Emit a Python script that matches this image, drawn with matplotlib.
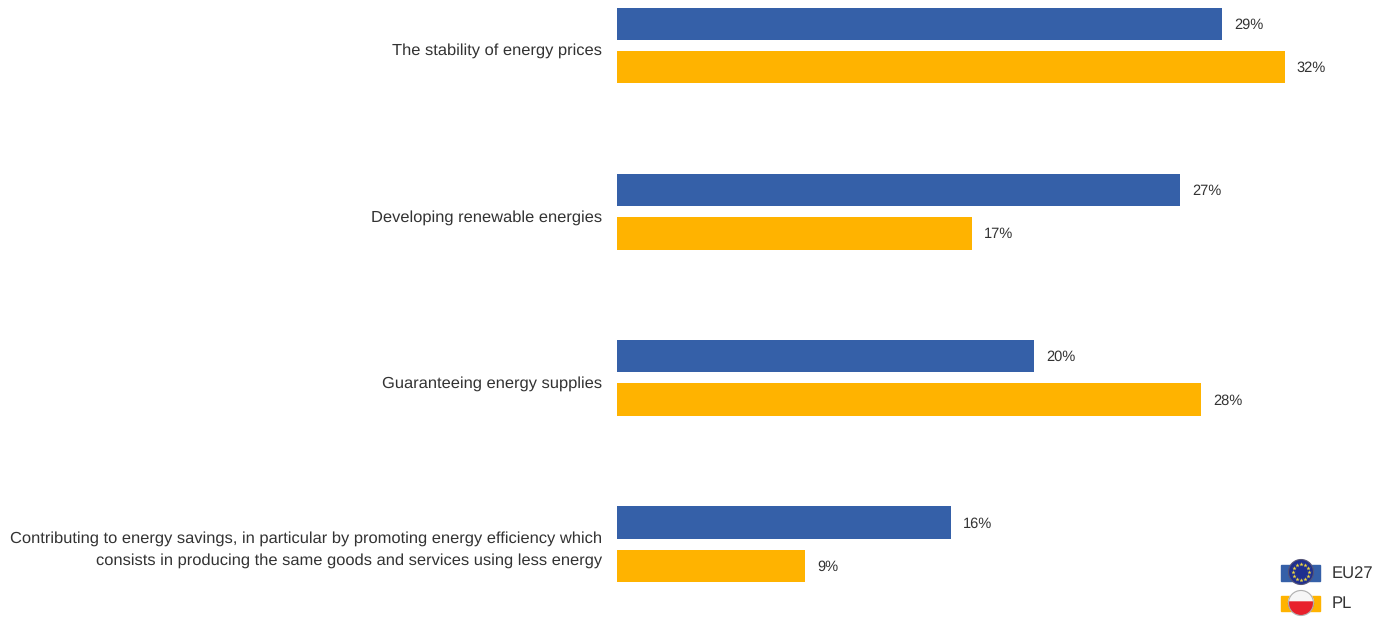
import numpy as np
import matplotlib
matplotlib.use("Agg")
import matplotlib.pyplot as plt
from matplotlib.patches import Circle, Rectangle, Wedge

categories = [
    "The stability of energy prices",
    "Developing renewable energies",
    "Guaranteeing energy supplies",
    "Contributing to energy savings, in particular by promoting energy efficiency which\nconsists in producing the same goods and services using less energy",
]
eu27 = [29, 27, 20, 16]
pl = [32, 17, 28, 9]
legend_names = ["EU27", "PL"]

W, H = 1387, 617
BLUE = "#3560A8"
ORANGE = "#FFB300"
TEXT = "#333333"
plt.rcParams["font.family"] = ["Liberation Sans", "DejaVu Sans"]
plt.rcParams["text.hinting"] = "none"

fig = plt.figure(figsize=(W / 100, H / 100), dpi=100)

# bars: axes starts at the zero line
ax = fig.add_axes([617 / W, 0, 1 - 617 / W, 1])
ax.set_xlim(0, (W - 617) / 20.87)
ax.set_ylim((H - 45.5) / 166.2, -45.5 / 166.2)
ax.axis("off")

y = np.arange(len(categories))
ax.barh(y - 0.13, eu27, height=0.195, color=BLUE)
ax.barh(y + 0.13, pl, height=0.195, color=ORANGE)

for i in range(len(categories)):
    ax.annotate(f"{eu27[i]}%", (eu27[i], y[i] - 0.13), xytext=(12, -1), textcoords="offset pixels",
                va="center", ha="left", fontsize=10.5, color=TEXT)
    ax.annotate(f"{pl[i]}%", (pl[i], y[i] + 0.13), xytext=(12, -1), textcoords="offset pixels",
                va="center", ha="left", fontsize=10.5, color=TEXT)
    ax.annotate(categories[i], (0, y[i]), xytext=(-15, -5.5), textcoords="offset pixels",
                va="center", ha="right", multialignment="right", fontsize=11.85,
                color=TEXT, linespacing=1.55, annotation_clip=False)

# legend with the round flags, in pixel coordinates
lg = fig.add_axes([0, 0, 1, 1], facecolor="none")
lg.set_xlim(0, W)
lg.set_ylim(H, 0)
lg.axis("off")

lg.add_patch(Rectangle((1281, 565), 39, 16, color=BLUE))
lg.add_patch(Circle((1301, 572), 12.5, fc="#1F2F8F", ec="#555577", lw=0.8))
for a in np.arange(0, 360, 30):
    lg.plot(1301 + 8 * np.cos(np.radians(a)), 572 + 8 * np.sin(np.radians(a)), "*",
            color="#F0D840", ms=3.2, mew=0)

lg.add_patch(Rectangle((1281, 596), 39, 15, color=ORANGE))
lg.add_patch(Wedge((1301, 603), 12.5, 180, 360, color="#F6F6F6"))
lg.add_patch(Wedge((1301, 602), 12.5, 0, 180, color="#E8202C"))
lg.add_patch(Circle((1301, 603), 12.5, fill=False, ec="#B0B0B0", lw=0.8))

lg.text(1332, 574, legend_names[0], va="center", ha="left", fontsize=12, color=TEXT)
lg.text(1332, 604, legend_names[1], va="center", ha="left", fontsize=12, color=TEXT)

fig.savefig("out.png", dpi=100, facecolor="white")
